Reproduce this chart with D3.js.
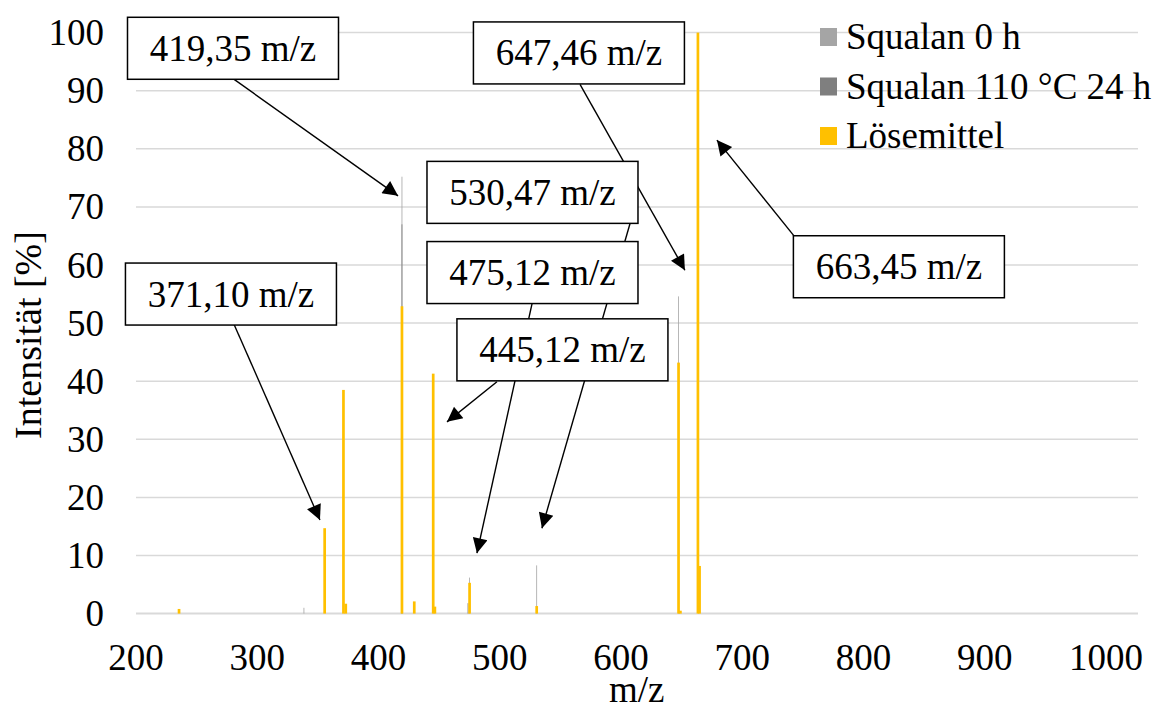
<!DOCTYPE html>
<html>
<head>
<meta charset="utf-8">
<script src="https://cdn.jsdelivr.net/npm/d3@7"></script>
<style>
  html, body { margin: 0; padding: 0; background: #fff; }
  svg { display: block; }
</style>
</head>
<body>
<svg id="chart" width="1162" height="711" font-family="'Liberation Serif', Tinos, 'Times New Roman', 'DejaVu Serif', serif"></svg>
<script>
// Peak positions (m/z) and intensities [%] per sample
const mzValues   = [235.5, 338.5, 355.6, 371.1, 373.0, 419.35, 429.5, 445.12, 446.5, 473.8, 475.12, 530.47, 647.46, 649.0, 663.45, 664.8];
const squalan0   = [0,     1.0,   0,     0,     0,     75.2,   0,     0,      0,     0,     6.2,    8.3,    54.6,   0,     0,      0];
const squalan110 = [0,     0,     0,     0,     0,     67.0,   0,     0,      0,     1.8,   0,      0,      0,      0,     0,      0];
const solvent    = [0.8,   0,     14.7,  38.5,  1.7,   52.9,   2.1,   41.3,   1.2,   0,     5.3,    1.3,    43.2,   0.5,   100,    8.2];

const seriesNames  = ["Squalan 0 h", "Squalan 110 °C 24 h", "Lösemittel"];
const seriesColors = ["#a5a5a5", "#7f7f7f", "#ffc000"];

const xTicks = [200, 300, 400, 500, 600, 700, 800, 900, 1000];
const yTicks = [0, 10, 20, 30, 40, 50, 60, 70, 80, 90, 100];

// Annotation callouts: label, arrow tip, arrow start and box centre, all in data units
const calloutLabels = ["419,35 m/z", "371,10 m/z", "530,47 m/z", "475,12 m/z", "445,12 m/z", "647,46 m/z", "663,45 m/z"];
const calloutTipMz  = [416.1, 351.7, 534.8, 481.2, 456.5, 652.7, 679.1];
const calloutTipY   = [71.9,  16.1,  14.7,  10.4,  33.0,  59.1,  81.5];
const calloutFromMz = [279.2, 280.0, 607.4, 526.6, 497.7, 566.2, 743.5];
const calloutFromY  = [92.2,  50.2,  67.1,  53.3,  39.9,  91.1,  64.8];
const calloutBoxMz  = [280.0, 278.3, 527.0, 527.0, 551.7, 565.3, 829.2];
const calloutBoxY   = [97.3,  55.0,  72.5,  58.7,  45.4,  96.5,  59.7];

const FS = 37;

const svg = d3.select("#chart");

const x = d3.scaleLinear().domain([200, 1026.4]).range([136, 1138]);
const y = d3.scaleLinear().domain([0, 100]).range([613.6, 32.6]);

// Horizontal gridlines
svg.append("g")
  .selectAll("line")
  .data(yTicks)
  .join("line")
  .attr("x1", x.range()[0]).attr("x2", x.range()[1])
  .attr("y1", d => y(d)).attr("y2", d => y(d))
  .attr("stroke", "#d9d9d9")
  .attr("stroke-width", d => d === 0 ? 2 : 1.5);

// Y axis tick labels
svg.append("g")
  .selectAll("text")
  .data(yTicks)
  .join("text")
  .attr("x", 104)
  .attr("y", d => y(d) + 12.5)
  .attr("text-anchor", "end")
  .attr("font-size", FS)
  .text(d => d);

// X axis tick labels
svg.append("g")
  .selectAll("text")
  .data(xTicks)
  .join("text")
  .attr("x", d => x(d))
  .attr("y", 670)
  .attr("text-anchor", "middle")
  .attr("font-size", FS)
  .text(d => d);

// Axis titles
svg.append("text")
  .attr("x", x(613))
  .attr("y", 702)
  .attr("text-anchor", "middle")
  .attr("font-size", FS)
  .text("m/z");

svg.append("text")
  .attr("transform", "translate(41,335) rotate(-90)")
  .attr("text-anchor", "middle")
  .attr("font-size", 38)
  .text("Intensität [%]");

// Spectrum bars: grey samples drawn as hairlines behind the solvent peaks
const allSeries = [squalan0, squalan110, solvent];
const barWidths = [0.8, 0.8, 2.7];
const barsG = svg.append("g");
allSeries.forEach((vals, si) => {
  const pts = mzValues.map((mz, i) => ({ mz, v: vals[i] })).filter(d => d.v > 0);
  barsG.append("g")
    .selectAll("rect")
    .data(pts)
    .join("rect")
    .attr("x", d => x(d.mz) - barWidths[si] / 2)
    .attr("width", barWidths[si])
    .attr("y", d => y(d.v))
    .attr("height", d => y(0) - y(d.v))
    .attr("fill", seriesColors[si]);
});

// Legend
const legend = svg.append("g");
seriesNames.forEach((name, i) => {
  const cy = 37 + i * 49.5;
  legend.append("rect")
    .attr("x", 820).attr("y", cy - 9)
    .attr("width", 17).attr("height", 18)
    .attr("fill", seriesColors[i]);
  legend.append("text")
    .attr("x", 846).attr("y", cy + 12)
    .attr("font-size", FS)
    .text(name);
});

// Callout arrows
const defs = svg.append("defs");
defs.append("marker")
  .attr("id", "arrowhead")
  .attr("viewBox", "0 0 10 10")
  .attr("refX", 10).attr("refY", 5)
  .attr("markerWidth", 20).attr("markerHeight", 15)
  .attr("markerUnits", "userSpaceOnUse")
  .attr("orient", "auto")
  .append("path")
  .attr("d", "M0,0 L10,5 L0,10 Z")
  .attr("fill", "#000");

const callouts = calloutLabels.map((label, i) => ({
  label,
  tx: x(calloutTipMz[i]), ty: y(calloutTipY[i]),
  fx: x(calloutFromMz[i]), fy: y(calloutFromY[i]),
  bx: x(calloutBoxMz[i]), by: y(calloutBoxY[i])
}));

svg.append("g")
  .selectAll("line")
  .data(callouts)
  .join("line")
  .attr("x1", d => d.fx).attr("y1", d => d.fy)
  .attr("x2", d => d.tx).attr("y2", d => d.ty)
  .attr("stroke", "#000")
  .attr("stroke-width", 1.4)
  .attr("marker-end", "url(#arrowhead)");

// Callout boxes on top of the arrows
const boxW = 211, boxH = 62;
const boxes = svg.append("g")
  .selectAll("g")
  .data(callouts)
  .join("g");
boxes.append("rect")
  .attr("x", d => d.bx - boxW / 2)
  .attr("y", d => d.by - boxH / 2)
  .attr("width", boxW).attr("height", boxH)
  .attr("fill", "#fff")
  .attr("stroke", "#000")
  .attr("stroke-width", 1.5);
boxes.append("text")
  .attr("x", d => d.bx)
  .attr("y", d => d.by + 12.5)
  .attr("text-anchor", "middle")
  .attr("font-size", FS)
  .text(d => d.label);
</script>
</body>
</html>
